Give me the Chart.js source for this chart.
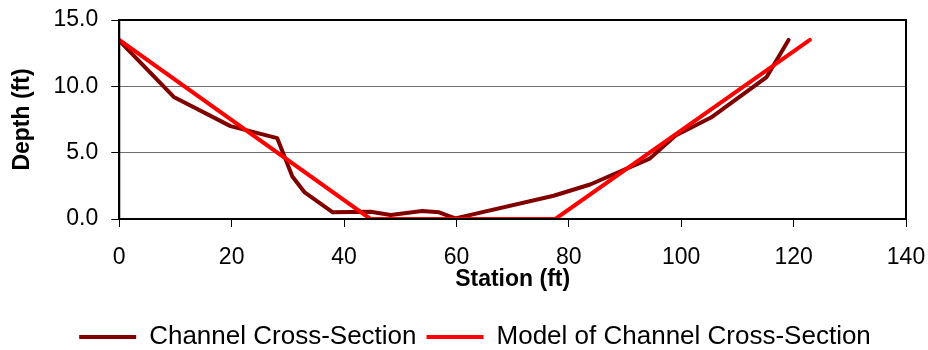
<!DOCTYPE html>
<html>
<head>
<meta charset="utf-8">
<script src="https://cdn.jsdelivr.net/npm/chart.js@4/dist/chart.umd.min.js"></script>
<style>
  html, body { margin: 0; padding: 0; background: #fff; }
  #wrap { width: 928px; height: 350px; }
</style>
</head>
<body>
<div id="wrap"><canvas id="sectionChart"></canvas></div>
<script>
// Surveyed channel cross-section
const channelStation = [0, 9.7, 19.8, 28.1, 30.8, 33.0, 38.0, 44.7, 48.3, 53.9, 56.9, 59.8, 77.3, 83.8, 94.4, 99.0, 105.3, 115.2, 119.1];
const channelDepth = [13.45, 9.2, 7.0, 6.1, 3.2, 2.0, 0.5, 0.55, 0.3, 0.6, 0.5, 0.05, 1.75, 2.6, 4.55, 6.3, 7.65, 10.7, 13.5];

// Trapezoidal model of the channel
const modelStation = [0, 44.7, 77.6, 122.9];
const modelDepth = [13.5, 0, 0, 13.5];

// Axis ticks
const stationTicks = [0, 20, 40, 60, 80, 100, 120, 140];
const depthTicks = [0, 5, 10, 15];

const seriesNames = ['Channel Cross-Section', 'Model of Channel Cross-Section'];

function toPoints(xs, ys) {
    return xs.map((x, i) => ({ x: x, y: ys[i] }));
}

// Box round the plot area (top and right sides too),
// and nudge the legend a little to the right like the original
const plotFrame = {
    id: 'plotFrame',
    afterLayout(chart) {
        if (chart.legend) {
            chart.legend.left += 22;
            chart.legend.right += 22;
        }
    },
    afterDatasetsDraw(chart) {
        const a = chart.chartArea;
        const ctx = chart.ctx;
        ctx.save();
        ctx.strokeStyle = '#000';
        ctx.lineWidth = 2;
        ctx.strokeRect(a.left, a.top, a.right - a.left, a.bottom - a.top);
        ctx.restore();
    }
};

const FONT = "'Liberation Sans', Arial, sans-serif";

new Chart(document.getElementById('sectionChart'), {
    type: 'line',
    data: {
        datasets: [{
            label: seriesNames[0],
            data: toPoints(channelStation, channelDepth),
            borderColor: '#800000',
            backgroundColor: '#800000',
            borderWidth: 4,
            pointRadius: 0,
            tension: 0,
            borderJoinStyle: 'round',
            borderCapStyle: 'round',
            order: 1
        }, {
            label: seriesNames[1],
            data: toPoints(modelStation, modelDepth),
            borderColor: '#ff0000',
            backgroundColor: '#ff0000',
            borderWidth: 4,
            pointRadius: 0,
            tension: 0,
            borderJoinStyle: 'round',
            borderCapStyle: 'round',
            order: 0
        }]
    },
    options: {
        responsive: true,
        maintainAspectRatio: false,
        animation: false,
        layout: {
            padding: { top: 20, right: 22, bottom: -10, left: 0 }
        },
        plugins: {
            tooltip: { enabled: false },
            legend: {
                position: 'bottom',
                labels: {
                    usePointStyle: true,
                    pointStyle: 'line',
                    pointStyleWidth: 57,
                    boxHeight: 4,
                    padding: 10,
                    color: '#000',
                    font: { family: FONT, size: 26 },
                    sort: (a, b) => a.datasetIndex - b.datasetIndex
                }
            }
        },
        scales: {
            x: {
                type: 'linear',
                min: 0,
                max: 140,
                afterBuildTicks: (axis) => { axis.ticks = stationTicks.map(v => ({ value: v })); },
                afterFit: (axis) => { axis.paddingRight = 0; },
                grid: {
                    drawOnChartArea: false,
                    tickLength: 8,
                    tickColor: '#000',
                    tickWidth: 1
                },
                border: { color: '#000', width: 2 },
                ticks: {
                    color: '#000',
                    padding: 19,
                    maxRotation: 0,
                    font: { family: FONT, size: 23, lineHeight: 1 }
                },
                title: {
                    display: true,
                    text: 'Station (ft)',
                    color: '#000',
                    font: { family: FONT, size: 23, weight: 'bold', lineHeight: 1 },
                    padding: { top: -20, bottom: 23 }
                }
            },
            y: {
                min: 0,
                max: 15,
                afterBuildTicks: (axis) => { axis.ticks = depthTicks.map(v => ({ value: v })); },
                afterFit: (axis) => { axis.paddingTop = 0; axis.paddingBottom = 0; },
                grid: {
                    color: '#6e6e6e',
                    lineWidth: 1,
                    tickLength: 8,
                    tickColor: '#000'
                },
                border: { color: '#000', width: 2 },
                ticks: {
                    color: '#000',
                    padding: 13,
                    font: { family: FONT, size: 23, lineHeight: 1 },
                    callback: (v) => Number(v).toFixed(1)
                },
                title: {
                    display: true,
                    text: 'Depth (ft)',
                    color: '#000',
                    font: { family: FONT, size: 23, weight: 'bold', lineHeight: 1 },
                    padding: { top: 11, bottom: 6.5 }
                }
            }
        }
    },
    plugins: [plotFrame]
});
</script>
</body>
</html>
